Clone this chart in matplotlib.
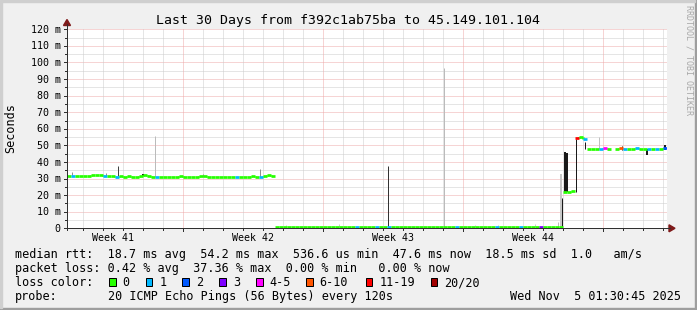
import numpy as np
import matplotlib
matplotlib.use("Agg")
import matplotlib.pyplot as plt
from matplotlib.patches import Rectangle, Polygon
from matplotlib.collections import LineCollection
from matplotlib.lines import Line2D

W, H = 697, 310
plt.rcParams['font.family'] = ['DejaVu Sans Mono', 'DejaVu Sans']

# ---------------- data ----------------
title = "Last 30 Days from f392c1ab75ba to 45.149.101.104"
y_label = "Seconds"
y_ticks = [0, 10, 20, 30, 40, 50, 60, 70, 80, 90, 100, 110, 120]
y_tick_labels = ["0", "10 m", "20 m", "30 m", "40 m", "50 m", "60 m", "70 m",
                 "80 m", "90 m", "100 m", "110 m", "120 m"]
week_labels = ["Week 41", "Week 42", "Week 43", "Week 44"]
week_label_days = [2.3, 9.3, 16.3, 23.3]
week_major_days = [5.8, 12.8, 19.8, 26.8]
first_day_line = 0.8
n_days = 30

step_days = 0.2
median_ms = [
    # Week 41-42 (about 31 ms)
    31.6, 31.4, 31.6, 31.5, 31.3, 31.5, 32.2, 32.3, 32.0, 31.4,
    31.3, 31.4, 31.2, 31.3, 31.2, 31.3, 31.0, 31.2, 31.4, 32.0,
    31.3, 31.0, 30.9, 31.0, 31.1, 30.9, 30.9, 31.2, 31.4, 31.0,
    30.9, 31.0, 31.1, 31.5, 31.6, 31.2, 31.0, 30.9, 31.0, 31.1,
    31.0, 31.2, 30.9, 31.0, 31.1, 30.9, 31.4, 31.0, 31.0, 31.5,
    32.1, 31.8,
    # Week 42-44 (sub-millisecond)
    0.8, 0.7, 0.8, 0.9, 0.7, 0.8, 0.6, 0.8, 0.7, 0.9,
    0.8, 0.7, 0.8, 0.8, 0.6, 0.7, 0.9, 0.8, 0.7, 0.8,
    0.7, 0.8, 0.9, 0.7, 0.8, 0.6, 0.8, 0.7, 0.8, 0.9,
    0.7, 0.8, 0.8, 0.7, 0.6, 0.8, 0.9, 0.7, 0.8, 0.7,
    0.8, 0.9, 0.7, 0.8, 0.6, 0.7, 0.8, 0.9, 0.8, 0.7,
    0.8, 0.7, 0.9, 0.8, 0.7, 0.8, 0.6, 0.8, 0.9, 0.7,
    0.8, 0.7, 0.8, 0.9, 0.7, 0.8, 0.7, 0.8, 0.9, 0.8,
    0.7, 0.8,
    # Week 44 - now
    22.0, 22.0, 22.2, 54.5, 54.8, 53.8, 48.0, 47.8, 48.0, 48.0,
    48.2, 47.8, np.nan, 48.0, 48.5, 48.0, 47.8, 48.0, 48.2, 47.8,
    48.0, 47.9, 48.0, 47.8, 48.0, 48.2,
]
# samples with packet loss: sample index and loss colour bucket
loss_sample = [1, 9, 12, 22, 42, 48, 72, 77, 80, 97, 107, 113, 118,
               127, 129, 133, 134, 138, 139, 142, 145, 147, 149]
loss_bucket = [1, 1, 1, 1, 1, 1, 1, 1, 1, 1, 1, 1, 3,
               6, 1, 1, 4, 5, 1, 1, 1, 1, 2]
loss_names = ["0", "1", "2", "3", "4-5", "6-10", "11-19", "20/20"]
loss_colors = ["#26ff00", "#00b8ff", "#0059ff", "#7e00ff",
               "#ff00ff", "#ff5500", "#ff0000", "#a10000"]

# smoke (spread of pings): day, low ms, high ms, shade, width px
smoke_day = [0.25, 1.95, 2.55, 3.8, 4.4, 6.8, 9.65, 10.95, 13.6, 16.05,
             18.85, 20.4, 21.55, 23.4, 24.55, 24.7, 24.75, 24.92, 25.02,
             25.43, 25.88, 26.6, 27.75, 29.0, 29.9]
smoke_lo = [31.5, 31.5, 31.5, 31.5, 31.0, 31.0, 31.0, 0.5, 0.5, 0.5,
            0.5, 0.5, 0.5, 0.5, 0.5, 0.5, 0.5, 22.0, 22.0,
            22.0, 48.0, 48.0, 47.0, 44.0, 47.0]
smoke_hi = [34.0, 33.5, 37.5, 32.8, 55.5, 33.0, 36.0, 2.0, 2.5, 37.5,
            96.5, 2.0, 2.0, 2.5, 4.0, 33.0, 18.0, 46.0, 45.5,
            54.0, 52.0, 55.0, 49.5, 48.0, 50.0]
smoke_shade = ["#909090", "#909090", "#404040", "#202020", "#bbbbbb", "#909090",
               "#909090", "#cccccc", "#cccccc", "#333333",
               "#bbbbbb", "#cccccc", "#cccccc", "#cccccc", "#bbbbbb", "#c8c8c8",
               "#1a1a1a", "#1a1a1a", "#1a1a1a",
               "#1a1a1a", "#1a1a1a", "#c0c0c0", "#1a1a1a", "#1a1a1a", "#1a1a1a"]
smoke_w = [1, 1, 1, 2, 1, 1, 1, 1, 1, 1,
           1, 1, 1, 1, 1, 2, 1, 2, 2,
           1, 1, 1, 1, 2, 2]

legend_rows = [
    "median rtt:  18.7 ms avg  54.2 ms max  536.6 us min  47.6 ms now  18.5 ms sd  1.0   am/s",
    "packet loss: 0.42 % avg  37.36 % max  0.00 % min   0.00 % now",
]
probe_text = "20 ICMP Echo Pings (56 Bytes) every 120s"
stamp_text = "Wed Nov  5 01:30:45 2025"
credit_text = "RRDTOOL / TOBI OETIKER"

# ---------------- layout helpers ----------------
def F(x, y):
    return x / W, 1 - y / H

BG = "#f0f0f0"
fig = plt.figure(figsize=(W / 100, H / 100), dpi=100, facecolor=BG)

PL, PR, PT, PB = 67, 667, 29.3, 228.3
ax = fig.add_axes([PL / W, 1 - PB / H, (PR - PL) / W, (PB - PT) / H])
ax.set_facecolor("white")
ax.set_xlim(0, n_days)
ax.set_ylim(0, 120)
for s in ax.spines.values():
    s.set_visible(False)
ax.set_xticks([])
ax.set_yticks([])

grid_minor = "#cccccc"
grid_major = "#eeaaaa"
dots = (0, (1, 1))
for v in range(5, 121, 5):
    c = grid_major if v % 10 == 0 else grid_minor
    ax.axhline(v, color=c, lw=0.72, ls=dots, zorder=1)
day_lines = [first_day_line + k for k in range(n_days)]
for d in day_lines:
    major = any(abs(d - m) < 1e-6 for m in week_major_days)
    ax.axvline(d, color=grid_major if major else grid_minor, lw=0.72, ls=dots, zorder=1)

# smoke
for d, lo, hi, c, w in zip(smoke_day, smoke_lo, smoke_hi, smoke_shade, smoke_w):
    ax.vlines(d, lo, hi, colors=c, lw=w * 0.72, zorder=2)

# median coloured by loss
med = np.array(median_ms, dtype=float)
t0 = np.arange(len(med)) * step_days
bucket = np.zeros(len(med), dtype=int)
bucket[loss_sample] = loss_bucket
segs, cols = [], []
for i in range(len(med)):
    if np.isnan(med[i]):
        continue
    segs.append([(t0[i], med[i]), (t0[i] + step_days, med[i])])
    cols.append(loss_colors[bucket[i]])
    if i + 1 < len(med) and not np.isnan(med[i + 1]) and abs(med[i + 1] - med[i]) < 2:
        segs.append([(t0[i] + step_days, med[i]), (t0[i] + step_days, med[i + 1])])
        cols.append(loss_colors[bucket[i]])
ax.add_collection(LineCollection(segs, colors=cols, lw=1.95, capstyle="butt", zorder=3))

# ---------------- frame / axes lines ----------------
axis_c = "#303030"
arrow_c = "#7f1a1a"
def fline(x0, y0, x1, y1, c, lw=1.0):
    fig.add_artist(Line2D([x0 / W, x1 / W], [1 - y0 / H, 1 - y1 / H], color=c, lw=lw * 0.72,
                          transform=fig.transFigure))

fline(PL, PB + 2, PL, 24, axis_c)
fline(PL - 3, PB, 670, PB, axis_c)
# y ticks
for v in range(0, 121, 5):
    yp = PB - v * (PB - PT) / 120
    fline(PL - (3 if v % 10 == 0 else 2), yp, PL, yp, axis_c)
for d in day_lines:
    xp = PL + d * (PR - PL) / n_days
    major = any(abs(d - m) < 1e-6 for m in week_major_days)
    fline(xp, PB, xp, PB + (3 if major else 2), axis_c)

fig.add_artist(Polygon([F(PL, 19.5), F(PL - 3.5, 25.5), F(PL + 3.5, 25.5)], closed=True,
                       color=arrow_c, transform=fig.transFigure))
fig.add_artist(Polygon([F(675, PB), F(669, PB - 3.5), F(669, PB + 3.5)], closed=True,
                       color=arrow_c, transform=fig.transFigure))

# borders
fig.add_artist(Rectangle((0, 0), 1, 2 / H, color="#9e9e9e", transform=fig.transFigure))
fig.add_artist(Rectangle((1 - 2 / W, 0), 2 / W, 1, color="#9e9e9e", transform=fig.transFigure))
fig.add_artist(Rectangle((0, 1 - 2 / H), 1 - 2 / W, 2 / H, color="#cfcfcf", transform=fig.transFigure))
fig.add_artist(Rectangle((0, 2 / H), 2 / W, 1 - 4 / H, color="#cfcfcf", transform=fig.transFigure))

# ---------------- text ----------------
fs_title, fs_axis, fs_leg = 9.5, 7.2, 8.5
fig.text(*F(348.5, 24), title, ha="center", va="baseline", fontsize=fs_title)
for v, lab in zip(y_ticks, y_tick_labels):
    yp = PB - v * (PB - PT) / 120
    fig.text(*F(60.5, yp + 3.6), lab, ha="right", va="baseline", fontsize=fs_axis)
for d, lab in zip(week_label_days, week_labels):
    xp = PL + d * (PR - PL) / n_days
    fig.text(*F(xp, 241), lab, ha="center", va="baseline", fontsize=fs_axis)
fig.text(*F(11, 128), y_label, rotation=90, ha="center", va="center", fontsize=fs_leg)
fig.text(*F(688.5, 60), credit_text, rotation=270, ha="center", va="center",
         fontsize=6, color="#a8a8a8")

X0 = 15.0
fig.text(*F(X0, 258), legend_rows[0], ha="left", va="baseline", fontsize=fs_leg)
fig.text(*F(X0, 272), legend_rows[1], ha="left", va="baseline", fontsize=fs_leg)
fig.text(*F(X0, 286), "loss color:", ha="left", va="baseline", fontsize=fs_leg)
box_x = [109, 145.7, 182.3, 219.3, 256, 306, 365.7, 431]
for bx, name, c in zip(box_x, loss_names, loss_colors):
    fig.add_artist(Rectangle(F(bx, 285.5), 6.5 / W, 7.5 / H, facecolor=c, edgecolor="black",
                             lw=0.72, transform=fig.transFigure))
    fig.text(*F(bx + 13.5, 286), name, ha="left", va="baseline", fontsize=fs_leg)
fig.text(*F(X0, 300), "probe:", ha="left", va="baseline", fontsize=fs_leg)
fig.text(*F(X0 + 13 * 7.12, 300), probe_text, ha="left", va="baseline", fontsize=fs_leg)
fig.text(*F(681, 300), stamp_text, ha="right", va="baseline", fontsize=fs_leg)

fig.savefig("out.png", dpi=100, facecolor=BG)
